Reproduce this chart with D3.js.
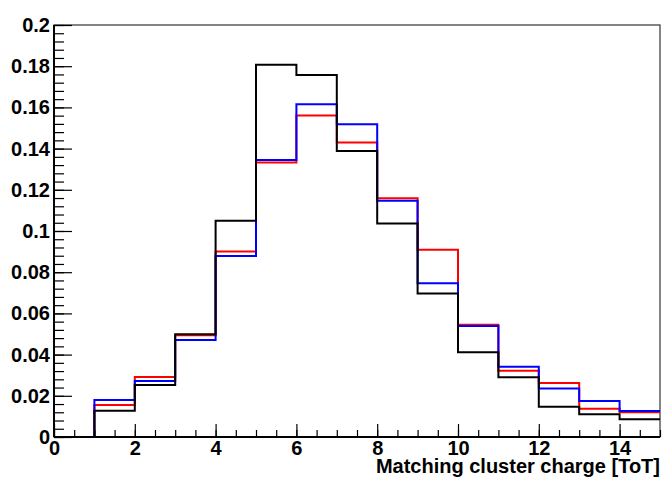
<!DOCTYPE html>
<html>
<head>
<meta charset="utf-8">
<script src="https://cdn.jsdelivr.net/npm/d3@7"></script>
<style>
  body { margin: 0; background: #fff; }
  svg { display: block; }
  .tick text { font-family: "Liberation Sans", Arial, sans-serif; font-weight: bold; font-size: 20px; fill: #000; }
</style>
</head>
<body>
<svg width="666" height="484"></svg>
<script>
// ---------------- Data ----------------
var binEdges = [0, 1, 2, 3, 4, 5, 6, 7, 8, 9, 10, 11, 12, 13, 14, 15];
var redValues   = [0, 0.0155, 0.0291, 0.0494, 0.0900, 0.1332, 0.1561, 0.1430, 0.1159, 0.0909, 0.0545, 0.0322, 0.0262, 0.0137, 0.0120];
var blueValues  = [0, 0.0180, 0.0272, 0.0471, 0.0879, 0.1345, 0.1615, 0.1518, 0.1147, 0.0746, 0.0539, 0.0341, 0.0236, 0.0175, 0.0126];
var blackValues = [0, 0.0128, 0.0252, 0.0499, 0.1050, 0.1807, 0.1757, 0.1388, 0.1037, 0.0696, 0.0411, 0.0290, 0.0147, 0.0110, 0.0086];
var xMajorTicks = [0, 2, 4, 6, 8, 10, 12, 14];
var yMajorTicks = [0, 0.02, 0.04, 0.06, 0.08, 0.1, 0.12, 0.14, 0.16, 0.18, 0.2];
var xTitle = "Matching cluster charge [ToT]";

// ---------------- Layout ----------------
var svg = d3.select('svg');
var frame = {l: 54, r: 660, t: 25, b: 437};

var x = d3.scaleLinear().domain([0, 15]).range([frame.l, frame.r]);
var y = d3.scaleLinear().domain([0, 0.2]).range([frame.b, frame.t]);

// frame (top/right)
svg.append('rect')
    .attr('x', frame.l).attr('y', frame.t)
    .attr('width', frame.r - frame.l).attr('height', frame.b - frame.t)
    .attr('fill', 'none').attr('stroke', '#333').attr('stroke-width', 1.2);

// histograms: red, blue, black (black on top)
function histPoints(vals) {
    var pts = [[0, 0]];
    vals.forEach(function(v, i) { pts.push([binEdges[i], v]); });
    pts.push([binEdges[binEdges.length - 1], vals[vals.length - 1]]);
    return pts;
}
var line = d3.line()
    .x(function(d) { return x(d[0]); })
    .y(function(d) { return y(d[1]); })
    .curve(d3.curveStepAfter);

[[redValues, '#ff0000'], [blueValues, '#0000ff'], [blackValues, '#000000']].forEach(function(s) {
    svg.append('path')
        .attr('d', line(histPoints(s[0])))
        .attr('fill', 'none')
        .attr('stroke', s[1])
        .attr('stroke-width', 2);
});

// ---------------- Axes ----------------
var xMinorTicks = d3.range(0, 31).map(function(i) { return i * 0.5; });
var yMinorTicks = d3.range(0, 51).map(function(i) { return i * 0.004; });

// x minor
svg.append('g')
    .attr('transform', 'translate(0,' + frame.b + ')')
    .call(d3.axisBottom(x).tickValues(xMinorTicks).tickSize(-7).tickFormat(''))
    .call(function(g) { g.select('.domain').remove(); });
// x major
var gx = svg.append('g')
    .attr('transform', 'translate(0,' + frame.b + ')')
    .call(d3.axisBottom(x).tickValues(xMajorTicks).tickSize(-13).tickPadding(4).tickFormat(d3.format('')));
gx.select('.domain').attr('stroke-width', 2).attr('d', 'M' + frame.l + ',0H' + frame.r);

// y minor
svg.append('g')
    .attr('transform', 'translate(' + frame.l + ',0)')
    .call(d3.axisLeft(y).tickValues(yMinorTicks).tickSize(-10).tickFormat(''))
    .call(function(g) { g.select('.domain').remove(); });
// y major
var gy = svg.append('g')
    .attr('transform', 'translate(' + frame.l + ',0)')
    .call(d3.axisLeft(y).tickValues(yMajorTicks).tickSize(-18).tickPadding(4).tickFormat(function(d) { return String(+d.toFixed(3)); }));
gy.select('.domain').attr('stroke-width', 2).attr('d', 'M0,' + frame.b + 'V' + frame.t);

svg.selectAll('.tick line').attr('stroke', '#000').attr('stroke-width', 1.2);

// x title
svg.append('text')
    .attr('x', frame.r).attr('y', 473)
    .attr('text-anchor', 'end')
    .style('font-family', '"Liberation Sans", Arial, sans-serif')
    .style('font-weight', 'bold')
    .style('font-size', '20px')
    .text(xTitle);
</script>
</body>
</html>
